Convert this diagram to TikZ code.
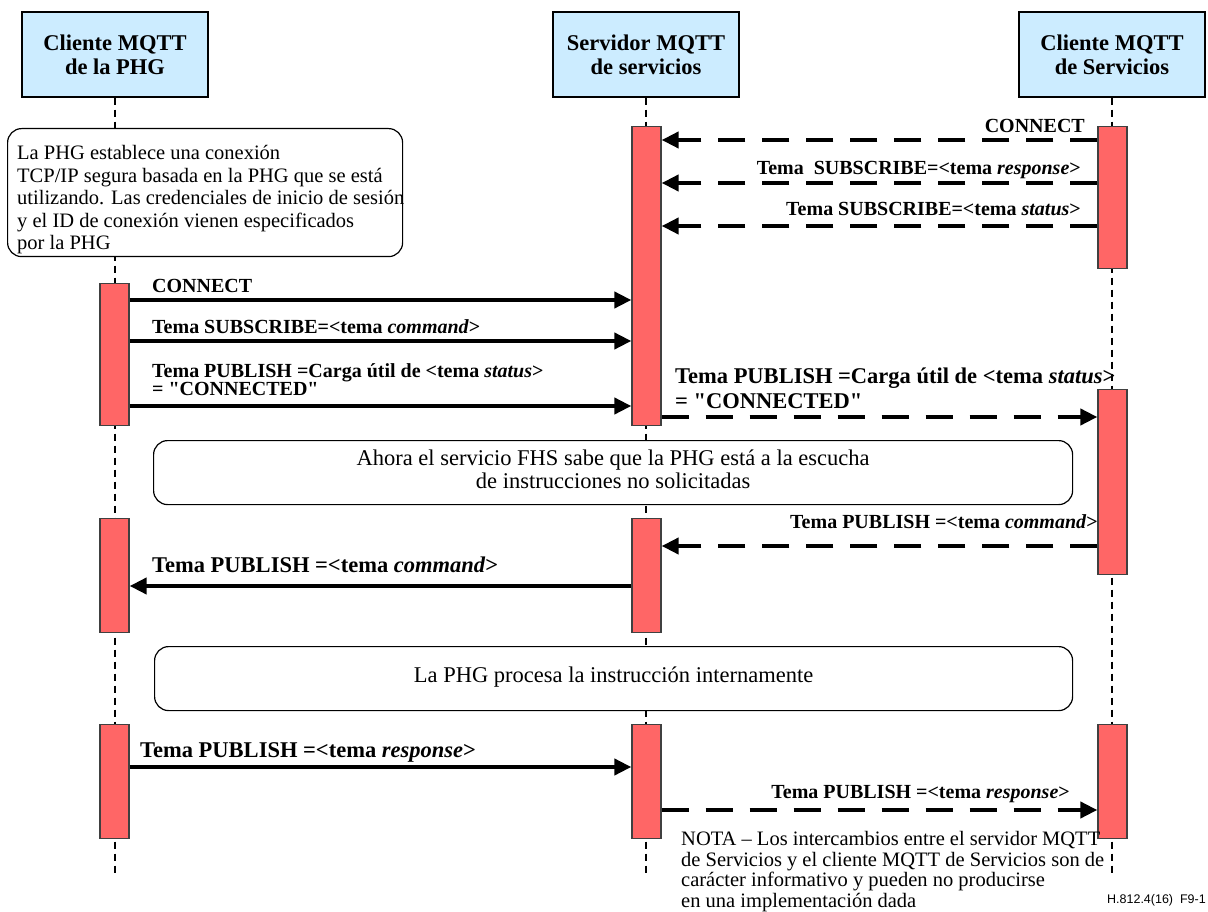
\documentclass[tikz,border=0pt]{standalone}
\usepackage{fontspec}
\setmainfont{Liberation Serif}[Ligatures=TeXOff]
\newfontfamily\figfont{Liberation Sans}
\usetikzlibrary{arrows.meta}
\definecolor{hdrblue}{RGB}{204,236,255}
\definecolor{barred}{RGB}{255,102,102}
\definecolor{bardraw}{RGB}{64,64,64}
\begin{document}
\begin{tikzpicture}[x=1pt,y=-1pt,
  header/.style={draw=black, line width=1.3pt, fill=hdrblue, minimum width=186pt, minimum height=85pt, inner sep=0pt, align=center, font=\bfseries\fontsize{22.5}{24}\selectfont},
  lifeline/.style={line width=1.5pt, dash pattern=on 7pt off 5pt},
  actbar/.style={draw=bardraw, line width=1.3pt, fill=barred, minimum width=29pt, inner sep=0pt, anchor=north},
  notebox/.style={draw=black, line width=1.2pt, fill=white, rounded corners=14pt, inner sep=0pt, anchor=north west},
  msg/.style={line width=4pt, -{Triangle[length=17pt,width=16pt]}},
  dmsg/.style={msg, dash pattern=on 27pt off 17pt},
  lbl/.style={font=\bfseries\fontsize{20}{20}\selectfont, inner sep=0pt},
  biglbl/.style={font=\bfseries\fontsize{22.5}{24}\selectfont, inner sep=0pt},
  txt/.style={font=\fontsize{20.5}{22}\selectfont, inner sep=0pt, anchor=base west},
  bigtxt/.style={font=\fontsize{22.5}{24}\selectfont, inner sep=0pt, anchor=base},
]
\useasboundingbox (0,0) rectangle (1208,912);
\fill[white] (0,0) rectangle (1208,912);

% headers
\node[header] (hL) at (115,54.5) {Cliente MQTT\\de la PHG};
\node[header] (hM) at (646,54.5) {Servidor MQTT\\de servicios};
\node[header] (hR) at (1112,54.5) {Cliente MQTT\\de Servicios};

% lifelines
\coordinate (endL) at (115,875);
\coordinate (endM) at (646,873);
\coordinate (endR) at (1112,875);
\draw[lifeline] (hL.south) -- (endL);
\draw[lifeline] (hM.south) -- (endM);
\draw[lifeline] (hR.south) -- (endR);

% notes
\node[notebox, minimum width=395pt, minimum height=128pt] (n1) at (7,128) {};
\node[txt] (n1a) at (17,160) {La PHG establece una conexión};
\node[txt] (n1b) at (17,182.5) {TCP/IP segura basada en la PHG que se está};
\node[txt] (n1c) at (17,205) {utilizando. Las credenciales de inicio de sesión};
\node[txt] (n1d) at (17,227.5) {y el ID de conexión vienen especificados};
\node[txt] (n1e) at (17,250) {por la PHG};

\node[notebox, minimum width=919pt, minimum height=64pt] (n2) at (153,440) {};
\node[bigtxt] (n2a) at (n2.center |- 0,465) {Ahora el servicio FHS sabe que la PHG está a la escucha};
\node[bigtxt] (n2b) at (n2.center |- 0,488) {de instrucciones no solicitadas};

\node[notebox, minimum width=918pt, minimum height=64pt] (n3) at (154,646) {};
\node[bigtxt] (n3a) at (n3.center |- 0,682) {La PHG procesa la instrucción internamente};

% activation bars
\node[actbar, minimum height=299pt] (m1) at (646.5,126) {};
\node[actbar, minimum height=142pt] (r1) at (1112.5,126) {};
\node[actbar, minimum height=142pt] (l1) at (114.5,283) {};
\node[actbar, minimum height=185pt] (r2) at (1112.5,389) {};
\node[actbar, minimum height=114pt] (l2) at (114.5,518) {};
\node[actbar, minimum height=114pt] (m2) at (646.5,518) {};
\node[actbar, minimum height=114pt] (l3) at (114.5,724) {};
\node[actbar, minimum height=114pt] (m3) at (646.5,724) {};
\node[actbar, minimum height=114pt] (r3) at (1112.5,724) {};

% messages
\draw[dmsg] (r1.west |- 0,140) -- (m1.east |- 0,140);
\node[lbl, anchor=base east] (t1) at (1085,133) {CONNECT};
\draw[dmsg] (r1.west |- 0,183) -- (m1.east |- 0,183);
\node[lbl, anchor=base east] (t2) at (1081,175) {Tema\ \ SUBSCRIBE=<tema \textit{response}>};
\draw[dmsg] (r1.west |- 0,226) -- (m1.east |- 0,226);
\node[lbl, anchor=base east] (t3) at (1081,216) {Tema SUBSCRIBE=<tema \textit{status}>};

\draw[msg] (l1.east |- 0,300) -- (m1.west |- 0,300);
\node[lbl, anchor=base west] (t4) at (152,293) {CONNECT};
\draw[msg] (l1.east |- 0,341) -- (m1.west |- 0,341);
\node[lbl, anchor=base west] (t5) at (152,333) {Tema SUBSCRIBE=<tema \textit{command}>};
\draw[msg] (l1.east |- 0,406) -- (m1.west |- 0,406);
\node[lbl, anchor=base west] (t6a) at (152,377) {Tema PUBLISH =Carga útil de <tema \textit{status}>};
\node[lbl, anchor=base west] (t6b) at (152,395) {= "CONNECTED"};

\draw[dmsg] (m1.east |- 0,417) -- (r2.west |- 0,417);
\node[biglbl, anchor=base west] (t7a) at (675,383) {Tema PUBLISH =Carga útil de <tema \textit{status}>};
\node[biglbl, anchor=base west] (t7b) at (675,408) {= "CONNECTED"};

\draw[dmsg] (r2.west |- 0,546) -- (m2.east |- 0,546);
\node[lbl, anchor=base east] (t8) at (1098,528) {Tema PUBLISH =<tema \textit{command}>};
\draw[msg] (m2.west |- 0,586) -- (l2.east |- 0,586);
\node[biglbl, anchor=base west] (t9) at (152,572) {Tema PUBLISH =<tema \textit{command}>};

\draw[msg] (l3.east |- 0,767) -- (m3.west |- 0,767);
\node[biglbl, anchor=base west] (t10) at (140,757) {Tema PUBLISH =<tema \textit{response}>};
\draw[dmsg] (m3.east |- 0,810) -- (r3.west |- 0,810);
\node[lbl, anchor=base east] (t11) at (1070,798) {Tema PUBLISH =<tema \textit{response}>};

% footnote
\node[txt] (nt1) at (681,845) {NOTA – Los intercambios entre el servidor MQTT};
\node[txt] (nt2) at (681,866) {de Servicios y el cliente MQTT de Servicios son de};
\node[txt] (nt3) at (681,886.5) {carácter informativo y pueden no producirse};
\node[txt] (nt4) at (681,907) {en una implementación dada};

\node[font=\figfont\fontsize{12.5}{12.5}\selectfont, inner sep=0pt, anchor=base east] (fig) at (1206,903) {H.812.4(16)\ \ F9-1};
\end{tikzpicture}
\end{document}
